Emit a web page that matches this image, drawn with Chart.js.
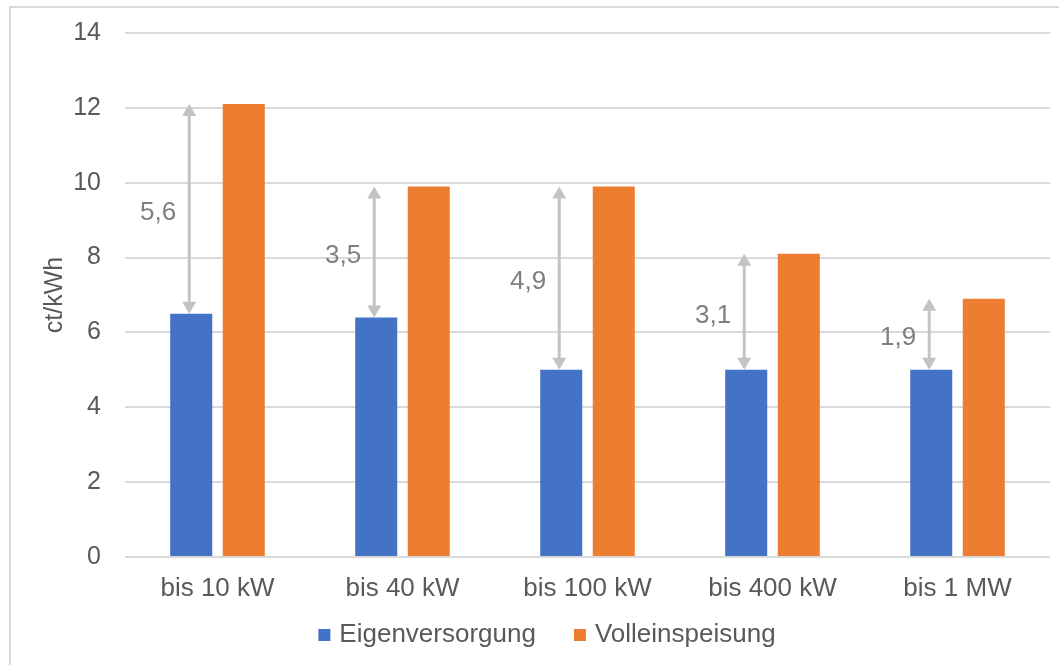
<!DOCTYPE html>
<html lang="de">
<head>
<meta charset="UTF-8">
<title>Eigenversorgung vs. Volleinspeisung</title>
<script src="https://cdn.jsdelivr.net/npm/chart.js"></script>
<style>
    body {
        margin: 0;
        background: #ffffff;
        overflow: hidden;
    }
    #frame {
        position: absolute;
        left: 9px;
        top: 6px;
        width: 1100px;
        height: 720px;
        border: 2px solid #d9d9d9;
    }
    #wrap {
        position: absolute;
        left: 0;
        top: 0;
        width: 1059px;
        height: 665px;
    }
</style>
</head>
<body>
<div id="frame"></div>
<div id="wrap"><canvas id="chart"></canvas></div>

<script>
// values (ct/kWh)
var categories = ['bis 10 kW', 'bis 40 kW', 'bis 100 kW', 'bis 400 kW', 'bis 1 MW'];
var eigenversorgung = [6.5, 6.4, 5.0, 5.0, 5.0];
var volleinspeisung = [12.1, 9.9, 9.9, 8.1, 6.9];
var differenz = [5.6, 3.5, 4.9, 3.1, 1.9];

var textColor = '#595959';
var fontFamily = '"Liberation Sans", Arial, Helvetica, sans-serif';

// grey double arrows between the two bars of each group
var arrowPlugin = {
    id: 'arrows',
    afterDatasetsDraw: function (chart) {
        var ctx = chart.ctx;
        var y = chart.scales.y;
        var meta = chart.getDatasetMeta(0);
        ctx.save();
        ctx.strokeStyle = '#c3c3c3';
        ctx.fillStyle = '#c3c3c3';
        ctx.lineWidth = 3;
        for (var i = 0; i < categories.length; i++) {
            var x = meta.data[i].x - 2;
            var yTop = y.getPixelForValue(volleinspeisung[i]);
            var yBot = y.getPixelForValue(eigenversorgung[i]);
            var head = 12;
            ctx.beginPath();
            ctx.moveTo(x, yTop + head - 1);
            ctx.lineTo(x, yBot - head + 1);
            ctx.stroke();
            // top head
            ctx.beginPath();
            ctx.moveTo(x, yTop);
            ctx.lineTo(x - 7, yTop + head);
            ctx.lineTo(x + 7, yTop + head);
            ctx.closePath();
            ctx.fill();
            // bottom head
            ctx.beginPath();
            ctx.moveTo(x, yBot);
            ctx.lineTo(x - 7, yBot - head);
            ctx.lineTo(x + 7, yBot - head);
            ctx.closePath();
            ctx.fill();

            ctx.fillStyle = '#7f7f7f';
            ctx.font = '26px ' + fontFamily;
            ctx.textAlign = 'right';
            ctx.textBaseline = 'middle';
            ctx.fillText(differenz[i].toFixed(1).replace('.', ','), x - 13, (yTop + yBot) / 2 + 4);
            ctx.fillStyle = '#c3c3c3';
        }
        ctx.restore();
    }
};

// legend row under the axis, spaced like the original
var legendPlugin = {
    id: 'legendRow',
    afterDraw: function (chart) {
        var ctx = chart.ctx;
        var sets = chart.data.datasets;
        var box = 12, textGap = 9, itemGap = 38;
        ctx.save();
        ctx.font = '26px ' + fontFamily;
        ctx.textBaseline = 'middle';
        ctx.textAlign = 'left';
        var total = 0;
        sets.forEach(function (ds, i) {
            total += box + textGap + ctx.measureText(ds.label).width + (i > 0 ? itemGap : 0);
        });
        var x = 547 - total / 2;
        var yMid = 635;
        sets.forEach(function (ds) {
            ctx.fillStyle = ds.backgroundColor;
            ctx.fillRect(x, yMid - box / 2, box, box);
            x += box + textGap;
            ctx.fillStyle = textColor;
            ctx.fillText(ds.label, x, yMid);
            x += ctx.measureText(ds.label).width + itemGap;
        });
        ctx.restore();
    }
};

var chart = new Chart(document.getElementById('chart'), {
    type: 'bar',
    data: {
        labels: categories,
        datasets: [{
            label: 'Eigenversorgung',
            data: eigenversorgung,
            backgroundColor: '#4472c4'
        }, {
            label: 'Volleinspeisung',
            data: volleinspeisung,
            backgroundColor: '#ed7d31'
        }]
    },
    options: {
        responsive: true,
        maintainAspectRatio: false,
        animation: false,
        categoryPercentage: 0.568,
        barPercentage: 0.8,
        layout: {
            padding: { left: 40, right: 9, top: 33, bottom: 52 }
        },
        plugins: {
            tooltip: { enabled: false },
            legend: { display: false }
        },
        scales: {
            x: {
                grid: { display: false, drawTicks: false },
                border: { display: false },
                ticks: {
                    color: textColor,
                    padding: 16,
                    font: { size: 26, family: fontFamily }
                },
                afterFit: function (scale) { scale.height = 56; }
            },
            y: {
                min: 0,
                max: 14,
                ticks: {
                    stepSize: 2,
                    padding: 24,
                    color: textColor,
                    font: { size: 25, family: fontFamily }
                },
                grid: { color: '#d9d9d9', lineWidth: 2, drawTicks: false },
                border: { display: false },
                title: {
                    display: true,
                    text: 'ct/kWh',
                    color: textColor,
                    padding: { top: 0, bottom: 0 },
                    font: { size: 25, family: fontFamily }
                },
                afterFit: function (scale) {
                    scale.width = 85;
                    scale.paddingTop = 0;
                    scale.paddingBottom = 0;
                }
            }
        }
    },
    plugins: [arrowPlugin, legendPlugin]
});
</script>
</body>
</html>
